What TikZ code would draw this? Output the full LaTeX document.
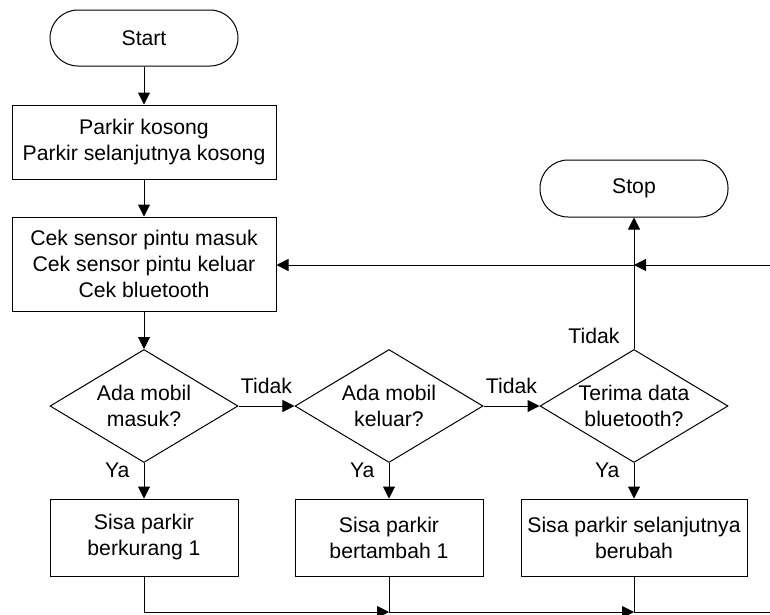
\documentclass[tikz,border=0pt]{standalone}
\usepackage{fontspec}
\setmainfont{Liberation Sans}
\usetikzlibrary{shapes.geometric,arrows.meta}

\begin{document}
\begin{tikzpicture}[x=1pt, y=-1pt, line width=1pt,
    >={Triangle[length=12pt,width=12pt]},
    every node/.style={font=\fontsize{21.2}{26}\selectfont, align=center},
    terminal/.style={draw, rectangle, rounded corners=28pt, inner sep=0pt, minimum width=188pt, minimum height=56pt},
    process/.style={draw, rectangle, inner sep=0pt, minimum height=77pt},
    decision/.style={draw, diamond, aspect=1.66, inner sep=0pt, minimum width=188pt, minimum height=113pt},
    lbl/.style={inner sep=0pt}]
    %--------------------%
    % Parameters
    %--------------------%
    \def\colA{144}
    \def\colB{389}
    \def\colC{634}
    \def\rowD{406}
    \def\rowE{537.5}
    \def\busy{612}
    \def\loopy{265}

    \useasboundingbox (0,0) rectangle (770,614);

    %--------------------%
    % Terminals
    %--------------------%
    \node[terminal] (start) at (\colA,38) {Start};
    \node[terminal, minimum height=57pt] (stop) at (\colC,188.5) {Stop};

    %--------------------%
    % Process
    %--------------------%
    \node[process, minimum width=264pt, minimum height=74pt] (init) at (\colA,142) {Parkir kosong\\Parkir selanjutnya kosong};
    \node[process, minimum width=264pt, minimum height=94pt] (cek) at (\colA,264) {Cek sensor pintu masuk\\Cek sensor pintu keluar\\Cek bluetooth};

    %--------------------%
    % Decisions
    %--------------------%
    \node[decision] (masuk) at (\colA,\rowD) {Ada mobil\\masuk?};
    \node[decision] (keluar) at (\colB,\rowD) {Ada mobil\\keluar?};
    \node[decision] (bt) at (\colC,\rowD) {Terima data\\bluetooth?};

    %--------------------%
    % Results
    %--------------------%
    \node[process, minimum width=188pt] (kurang) at (\colA,\rowE) {Sisa parkir\\berkurang 1};
    \node[process, minimum width=188pt] (tambah) at (\colB,\rowE) {Sisa parkir\\bertambah 1};
    \node[process, minimum width=226pt] (ubah) at (\colC,\rowE) {Sisa parkir selanjutnya\\berubah};

    % Junctions
    \coordinate (jkeluar) at (\colB,\busy);
    \coordinate (jbt) at (\colC,\busy);
    \coordinate (jloop) at (\colC,\loopy);
    \coordinate (edgebot) at (770,\busy);
    \coordinate (edgetop) at (770,\loopy);

    %--------------------%
    % Connections
    %--------------------%
    \draw[->] (start) -- (init);
    \draw[->] (init) -- (cek);
    \draw[->] (cek) -- (masuk);
    \draw[->] (masuk) -- node[lbl, above=12pt]{Tidak} (keluar);
    \draw[->] (keluar) -- node[lbl, above=12pt]{Tidak} (bt);
    \draw[->] (bt) -- node[lbl, pos=0.1, left=14pt]{Tidak} (stop);
    \draw[->] (masuk) -- node[lbl, pos=0.2, left=14pt]{Ya} (kurang);
    \draw[->] (keluar) -- node[lbl, pos=0.2, left=14pt]{Ya} (tambah);
    \draw[->] (bt) -- node[lbl, pos=0.2, left=14pt]{Ya} (ubah);

    % Back to sensor check
    \draw[->] (kurang) |- (jkeluar);
    \draw (tambah) -- (jkeluar);
    \draw[->] (jkeluar) -- (jbt);
    \draw (ubah) -- (jbt) -- (edgebot);
    \draw[->] (edgetop) -- (jloop);
    \draw[->] (jloop) -- (jloop -| cek.east);

\end{tikzpicture}
\end{document}
